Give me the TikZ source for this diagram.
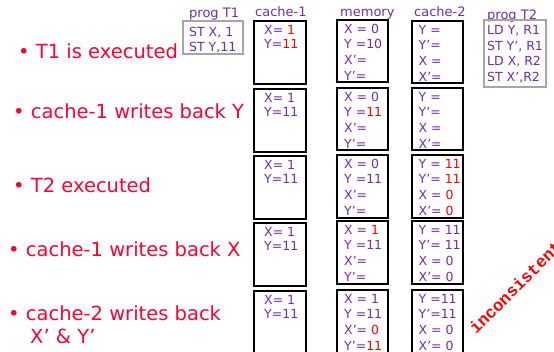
\documentclass[tikz,border=0pt]{standalone}
\usepackage{fontspec}
\setmainfont{DejaVu Sans}
\newfontfamily\monob{Liberation Mono}
\definecolor{pur}{HTML}{7030A0}
\definecolor{bred}{HTML}{FF0033}
\definecolor{vred}{HTML}{FF0000}
\definecolor{pgray}{HTML}{A6A6A6}
\newcommand\rd[1]{\textcolor{vred}{#1}}
\newcommand\fourlines[6]{%
  \node[txt] (#1-1) at ([xshift=#2, yshift=-13pt]#1.north west) {#3};
  \node[txt] (#1-2) at ([xshift=#2, yshift=-28pt]#1.north west) {#4};
  \node[txt] (#1-3) at ([xshift=#2, yshift=-44pt]#1.north west) {#5};
  \node[txt] (#1-4) at ([xshift=#2, yshift=-60pt]#1.north west) {#6};}
\newcommand\twolines[3]{%
  \node[txt] (#1-1) at ([xshift=10pt, yshift=-13pt]#1.north west) {#2};
  \node[txt] (#1-2) at ([xshift=10pt, yshift=-27pt]#1.north west) {#3};}
\begin{document}
\begin{tikzpicture}[x=1pt,y=-1pt,
  cell/.style={draw=black, line width=1.8pt, minimum width=52pt, minimum height=63pt, inner sep=0pt, outer sep=0pt, anchor=north west},
  prog/.style={draw=pgray, line width=1.5pt, inner sep=0pt, outer sep=0pt, anchor=north west},
  txt/.style={anchor=base west, inner sep=0pt, text=pur, font=\fontsize{12.5}{14}\selectfont},
  hdr/.style={anchor=base west, inner sep=0pt, text=pur, font=\fontsize{13}{15}\selectfont},
  bul/.style={anchor=base west, inner sep=0pt, text=bred, font=\fontsize{19.5}{23}\selectfont}]
\useasboundingbox (0,0) rectangle (554,351);
\clip (0,0) rectangle (554,351);
\fill[white] (0,0) rectangle (554,351);

% headers
\node[hdr] (hT1) at (189,17) {prog T1};
\node[hdr] (hc1) at (255,16) {cache-1};
\node[hdr] (hmem) at (340,16) {memory};
\node[hdr] (hc2) at (414,16) {cache-2};
\node[hdr] (hT2) at (487,19) {prog T2};

% programs
\node[prog, minimum width=60pt, minimum height=33pt] (pT1) at (183,21) {};
\node[txt] (pT1-1) at (189,36) {ST X, 1};
\node[txt] (pT1-2) at (189,51) {ST Y,11};
\node[prog, minimum width=62pt, minimum height=67pt] (pT2) at (484,20) {};
\node[txt] (pT2-1) at (487,34) {LD Y, R1};
\node[txt] (pT2-2) at (487,50) {ST Y’, R1};
\node[txt] (pT2-3) at (487,65) {LD X, R2};
\node[txt] (pT2-4) at (487,81) {ST X’,R2};

% boxes
\node[cell] (c1a) at (254,21) {};
\node[cell] (c1b) at (254,89) {};
\node[cell] (c1c) at (254,156) {};
\node[cell] (c1d) at (254,223) {};
\node[cell, minimum height=80pt] (c1e) at (254,291) {};
\node[cell, minimum width=51pt, minimum height=62pt] (ma) at (337,20) {};
\node[cell, minimum width=51pt, minimum height=62pt] (mb) at (337,88) {};
\node[cell, minimum width=51pt, minimum height=63pt] (mc) at (337,155) {};
\node[cell, minimum width=51pt, minimum height=63pt] (md) at (337,221) {};
\node[cell, minimum width=51pt, minimum height=80pt] (me) at (337,290) {};
\node[cell, minimum width=51pt, minimum height=62pt] (c2a) at (412,21) {};
\node[cell, minimum width=51pt, minimum height=62pt] (c2b) at (412,88) {};
\node[cell, minimum width=51pt, minimum height=63pt] (c2c) at (412,155) {};
\node[cell, minimum width=51pt, minimum height=63pt] (c2d) at (412,221) {};
\node[cell, minimum width=51pt, minimum height=80pt] (c2e) at (412,290) {};

% cache-1 contents
\twolines{c1a}{X= \rd{1}}{Y=\rd{11}}
\twolines{c1b}{X= 1}{Y=11}
\twolines{c1c}{X= 1}{Y=11}
\twolines{c1d}{X= 1}{Y=11}
\twolines{c1e}{X= 1}{Y=11}

% memory contents
\fourlines{ma}{7pt}{X = 0}{Y =10}{X’=}{Y’=}
\fourlines{mb}{7pt}{X = 0}{Y =\rd{11}}{X’=}{Y’=}
\fourlines{mc}{7pt}{X = 0}{Y =11}{X’=}{Y’=}
\fourlines{md}{7pt}{X = \rd{1}}{Y =11}{X’=}{Y’=}
\fourlines{me}{7pt}{X = 1}{Y =11}{X’= \rd{0}}{Y’=\rd{11}}

% cache-2 contents
\fourlines{c2a}{6.5pt}{Y =}{Y’=}{X =}{X’=}
\fourlines{c2b}{6.5pt}{Y =}{Y’=}{X =}{X’=}
\fourlines{c2c}{6.5pt}{Y = \rd{11}}{Y’= \rd{11}}{X = \rd{0}}{X’= \rd{0}}
\fourlines{c2d}{6.5pt}{Y = 11}{Y’= 11}{X = 0}{X’= 0}
\fourlines{c2e}{6.5pt}{Y =11}{Y’=11}{X = 0}{X’= 0}

% bullets
\node[bul] (b1) at (18,58) {• T1 is executed};
\node[bul] (b2) at (13,118) {• cache-1 writes back Y};
\node[bul] (b3) at (13,192) {• T2 executed};
\node[bul] (b4) at (8,256) {• cache-1 writes back X};
\node[bul] (b5) at (8,320) {• cache-2 writes back};
\node[bul] (b5b) at (30,343) {X’ \& Y’};

% inconsistent
\node[anchor=base west, inner sep=0pt, rotate=45, text=vred, font=\monob\bfseries\fontsize{17}{17}\selectfont] (inc) at (476,335) {inconsistent};
\end{tikzpicture}
\end{document}
